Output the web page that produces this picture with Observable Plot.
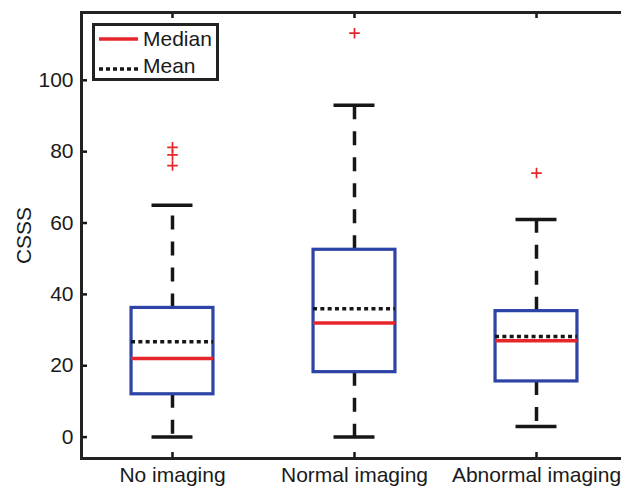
<!DOCTYPE html>
<html><head><meta charset="utf-8">
<script src="https://cdn.jsdelivr.net/npm/d3@7"></script>
<script src="https://cdn.jsdelivr.net/npm/@observablehq/plot@0.6"></script>
<style>
html,body{margin:0;padding:0;background:#fff;overflow:hidden;}
#wrap{position:relative;width:621px;height:489px;overflow:hidden;}
#wrap svg{max-width:none !important;}
#legend{position:absolute;left:0;top:0;pointer-events:none;}
</style></head><body><div id="wrap"></div>
<script>
// ---- data ----
const categories = ["No imaging", "Normal imaging", "Abnormal imaging"];
const q1Values = [12.0, 18.2, 15.6];
const q3Values = [36.2, 52.5, 35.3];
const medianValues = [22.0, 32.0, 27.0];
const meanValues = [26.7, 36.0, 28.2];
const whiskerLowValues = [0, 0, 3];
const whiskerHighValues = [65, 93, 61];
const outlierGroups = [1, 1, 1, 2, 3];
const outlierValues = [81.2, 79.1, 76.1, 113.2, 74.0];
const yTicks = [0, 20, 40, 60, 80, 100];
const legendLabels = ["Median", "Mean"];

const rows = categories.map((c, i) => ({
  pos: i + 1, cat: c, q1: q1Values[i], q3: q3Values[i], median: medianValues[i],
  mean: meanValues[i], lo: whiskerLowValues[i], hi: whiskerHighValues[i]
}));
const outRows = outlierValues.map((v, i) => ({pos: outlierGroups[i], value: v}));

const halfBox = 0.225, halfCap = 0.1125;
const xDomain = [0.5, 3.5], yDomain = [-6, 119];
const tickLenX = 6 / 182, tickLenY = 6 / 3.57;
const black = "#161616", blue = "#2d43a6", red = "#e6262b";
const font = "'Liberation Sans', Arial, sans-serif";

const plot = Plot.plot({
  width: 630, height: 489,
  marginLeft: 81, marginRight: 3, marginTop: 12, marginBottom: 31,
  style: {fontFamily: font, fontSize: "21px", color: "#1a1a1a", background: "#fff", maxWidth: "none"},
  x: {domain: xDomain},
  y: {domain: yDomain},
  marks: [
    Plot.ruleX(rows, {x: "pos", y1: "q3", y2: "hi", stroke: black, strokeWidth: 3.5, strokeDasharray: "14,12"}),
    Plot.ruleX(rows, {x: "pos", y1: "q1", y2: "lo", stroke: black, strokeWidth: 3.5, strokeDasharray: "14,12"}),
    Plot.ruleY(rows, {y: "hi", x1: d => d.pos - halfCap, x2: d => d.pos + halfCap, stroke: black, strokeWidth: 3.5}),
    Plot.ruleY(rows, {y: "lo", x1: d => d.pos - halfCap, x2: d => d.pos + halfCap, stroke: black, strokeWidth: 3.5}),
    Plot.rect(rows, {x1: d => d.pos - halfBox, x2: d => d.pos + halfBox, y1: "q1", y2: "q3", fill: "white", stroke: blue, strokeWidth: 3.2}),
    Plot.ruleY(rows, {y: "mean", x1: d => d.pos - halfBox, x2: d => d.pos + halfBox, stroke: black, strokeWidth: 3.5, strokeDasharray: "4,3.3"}),
    Plot.ruleY(rows, {y: "median", x1: d => d.pos - halfBox, x2: d => d.pos + halfBox, stroke: red, strokeWidth: 3.5}),
    Plot.dot(outRows, {x: "pos", y: "value", symbol: "plus", r: 3.5, stroke: red, strokeWidth: 1.7}),
    // inward ticks
    Plot.ruleY(yTicks, {y: d => d, x1: xDomain[0], x2: xDomain[0] + tickLenX, stroke: black, strokeWidth: 2.5}),
    Plot.ruleY(yTicks, {y: d => d, x1: xDomain[1] - tickLenX, x2: xDomain[1], stroke: black, strokeWidth: 2.5}),
    Plot.ruleX([1, 2, 3], {x: d => d, y1: yDomain[0], y2: yDomain[0] + tickLenY, stroke: black, strokeWidth: 2.5}),
    Plot.ruleX([1, 2, 3], {x: d => d, y1: yDomain[1] - tickLenY, y2: yDomain[1], stroke: black, strokeWidth: 2.5}),
    Plot.frame({stroke: "#222", strokeWidth: 3}),
    Plot.axisY({ticks: yTicks, tickSize: 0, tickPadding: 8, label: "CSSS", labelAnchor: "center", labelArrow: "none", labelOffset: 65}),
    Plot.axisX({ticks: [1, 2, 3], tickFormat: i => categories[i - 1], tickSize: 0, tickPadding: 9, label: null})
  ]
});
const wrap = document.getElementById("wrap");
wrap.appendChild(plot);

// legend overlay
const ns = "http://www.w3.org/2000/svg";
const lg = document.createElementNS(ns, "svg");
lg.setAttribute("id", "legend");
lg.setAttribute("width", 621); lg.setAttribute("height", 489);
lg.innerHTML = `
  <rect x="93.5" y="24.5" width="124" height="55" fill="white" stroke="#222" stroke-width="3"/>
  <line x1="99" x2="138" y1="39" y2="39" stroke="${red}" stroke-width="3.5"/>
  <line x1="99" x2="138" y1="69" y2="69" stroke="${black}" stroke-width="3.5" stroke-dasharray="4,3"/>
  <text x="143" y="39" dy="0.35em" font-family="${font}" font-size="21" fill="#1a1a1a">${legendLabels[0]}</text>
  <text x="143" y="66" dy="0.35em" font-family="${font}" font-size="21" fill="#1a1a1a">${legendLabels[1]}</text>`;
wrap.appendChild(lg);
</script></body></html>
